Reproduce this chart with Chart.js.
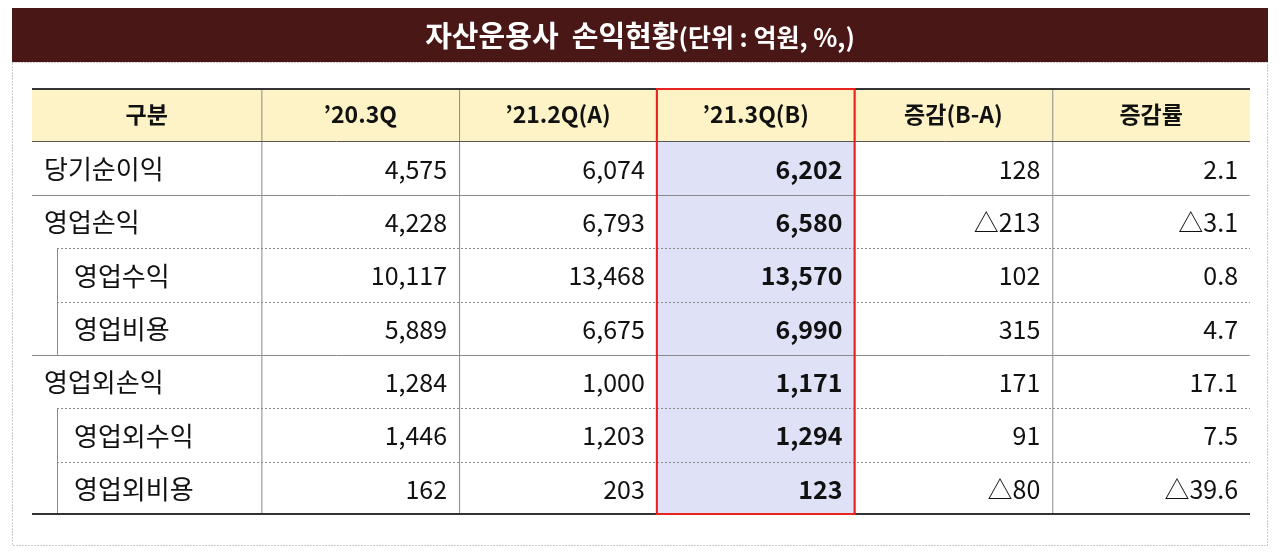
<!DOCTYPE html>
<html>
<head>
<meta charset="utf-8">
<script src="https://cdn.jsdelivr.net/npm/chart.js@4/dist/chart.umd.min.js"></script>
<style>
  body { margin: 0; background: #fff; }
  #wrap { width: 1280px; height: 552px; }
</style>
</head>
<body>
<div id="wrap"><canvas id="tbl"></canvas></div>
<script>
// table data
const title = '자산운용사  손익현황';
const unit = '(단위 : 억원, %,)';
const columns = ['구분', '’20.3Q', '’21.2Q(A)', '’21.3Q(B)', '증감(B-A)', '증감률'];
const rows = ['당기순이익', '영업손익', '영업수익', '영업비용', '영업외손익', '영업외수익', '영업외비용'];
const subRow = [false, false, true, true, false, true, true];
const q20_3 = ['4,575', '4,228', '10,117', '5,889', '1,284', '1,446', '162'];
const q21_2 = ['6,074', '6,793', '13,468', '6,675', '1,000', '1,203', '203'];
const q21_3 = ['6,202', '6,580', '13,570', '6,990', '1,171', '1,294', '123'];
const diff = ['128', '△213', '102', '315', '171', '91', '△80'];
const rate = ['2.1', '△3.1', '0.8', '4.7', '17.1', '7.5', '△39.6'];
const colEdges = [0, 1.16, 2.16, 3.16, 4.16, 5.16, 6.16];

const yLabels = ['header'].concat(rows);
const FONT = '"Noto Sans CJK KR", "Noto Sans", sans-serif';

const tablePlugin = {
  id: 'tablePlugin',
  beforeDraw(chart) {
    const ctx = chart.ctx;
    const x = chart.scales.x, y = chart.scales.y;
    const area = chart.chartArea;
    const rowH = (area.bottom - area.top) / yLabels.length;
    const rowTop = i => y.getPixelForValue(i) - rowH / 2;
    const colX = i => x.getPixelForValue(colEdges[i]);
    ctx.save();
    // title bar
    ctx.fillStyle = '#4a1717';
    ctx.fillRect(12, 8, 1256, 54);
    ctx.fillStyle = '#fff';
    ctx.textBaseline = 'middle';
    ctx.font = 'bold 29px ' + FONT;
    const tw = ctx.measureText(title).width;
    ctx.font = 'bold 25px ' + FONT;
    const uw = ctx.measureText(unit).width;
    let tx = 640 - (tw + uw) / 2;
    ctx.font = 'bold 29px ' + FONT;
    ctx.textAlign = 'left';
    ctx.fillText(title, tx, 36);
    ctx.font = 'bold 25px ' + FONT;
    ctx.fillText(unit, tx + tw, 37);
    // outer dotted box
    ctx.strokeStyle = '#999';
    ctx.lineWidth = 1;
    ctx.setLineDash([1, 2]);
    ctx.strokeRect(12.5, 62.5, 1255, 483);
    ctx.setLineDash([]);
    // header fill
    ctx.fillStyle = '#fdf3c6';
    ctx.fillRect(area.left, rowTop(0), area.right - area.left, rowH);
    // highlighted column fill
    ctx.fillStyle = '#dfe1f6';
    ctx.fillRect(colX(3), rowTop(1), colX(4) - colX(3), area.bottom - rowTop(1));
    // vertical lines
    ctx.strokeStyle = '#8a8a8a';
    for (let c = 1; c < colEdges.length - 1; c++) {
      ctx.beginPath();
      ctx.moveTo(colX(c) + 0.5, area.top);
      ctx.lineTo(colX(c) + 0.5, area.bottom);
      ctx.stroke();
    }
    // horizontal lines
    const indent = area.left + 25;
    for (let r = 1; r < yLabels.length; r++) {
      const yy = Math.round(rowTop(r)) + 0.5;
      const dotted = subRow[r - 1];
      ctx.strokeStyle = r === 1 ? '#555' : '#8a8a8a';
      ctx.setLineDash(dotted ? [2, 2] : []);
      ctx.beginPath();
      ctx.moveTo(dotted ? indent : area.left, yy);
      ctx.lineTo(area.right, yy);
      ctx.stroke();
    }
    ctx.setLineDash([]);
    // indent lines for sub rows
    ctx.strokeStyle = '#8a8a8a';
    subRow.forEach((s, i) => {
      if (!s) return;
      ctx.beginPath();
      ctx.moveTo(indent + 0.5, rowTop(i + 1));
      ctx.lineTo(indent + 0.5, rowTop(i + 1) + rowH);
      ctx.stroke();
    });
    // top / bottom borders
    ctx.strokeStyle = '#333';
    ctx.lineWidth = 2;
    ctx.beginPath();
    ctx.moveTo(area.left, area.top + 1); ctx.lineTo(area.right, area.top + 1);
    ctx.moveTo(area.left, area.bottom - 1); ctx.lineTo(area.right, area.bottom - 1);
    ctx.stroke();
    // red box
    ctx.strokeStyle = '#e8231f';
    ctx.strokeRect(colX(3), area.top + 1, colX(4) - colX(3), area.bottom - area.top - 2);
    // header text
    ctx.fillStyle = '#111';
    ctx.textAlign = 'center';
    ctx.font = 'bold 23px ' + FONT;
    columns.forEach((c, i) => {
      ctx.fillText(c, (colX(i) + colX(i + 1)) / 2, y.getPixelForValue(0));
    });
    // body text
    const series = [q20_3, q21_2, q21_3, diff, rate];
    rows.forEach((name, r) => {
      const cy = y.getPixelForValue(r + 1) + 1;
      ctx.textAlign = 'left';
      ctx.font = '26px ' + FONT;
      ctx.fillText(name, subRow[r] ? area.left + 42 : area.left + 12, cy);
      ctx.textAlign = 'right';
      series.forEach((s, c) => {
        ctx.font = (c === 2 ? 'bold ' : '') + '25px ' + FONT;
        ctx.fillText(s[r], colX(c + 2) - 12, cy);
      });
    });
    ctx.restore();
  }
};

new Chart(document.getElementById('tbl'), {
  type: 'bar',
  data: { labels: yLabels, datasets: [] },
  options: {
    responsive: true,
    maintainAspectRatio: false,
    animation: false,
    layout: { padding: { left: 32, right: 30, top: 88, bottom: 37 } },
    plugins: { legend: { display: false }, tooltip: { enabled: false } },
    scales: {
      x: { type: 'linear', min: 0, max: 6.16, offset: false, display: false },
      y: { type: 'category', labels: yLabels, offset: true, display: false }
    }
  },
  plugins: [tablePlugin]
});
</script>
</body>
</html>
